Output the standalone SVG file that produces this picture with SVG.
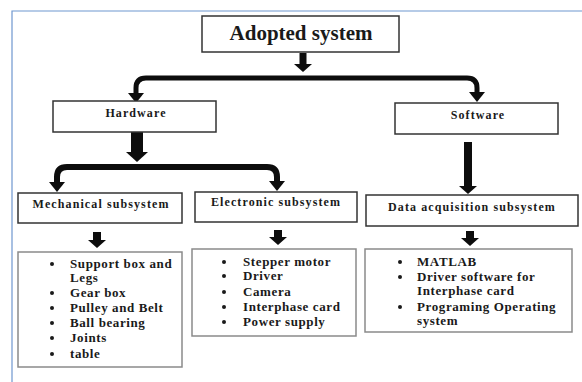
<svg xmlns="http://www.w3.org/2000/svg" width="582" height="382" viewBox="0 0 582 382">
  <style>
    .box { fill: #ffffff; stroke: #333333; stroke-width: 1.5; }
    .list { fill: #ffffff; stroke: #8a8a8a; stroke-width: 1.5; }
    .title { font-family: "Liberation Serif", "Times New Roman", serif; font-weight: bold; font-size: 21px; fill: #1a1a1a; text-anchor: middle; }
    .head { font-family: "Liberation Serif", "Times New Roman", serif; font-weight: bold; font-size: 12px; letter-spacing: 1.1px; fill: #1a1a1a; text-anchor: middle; }
    .item { font-family: "Liberation Serif", "Times New Roman", serif; font-weight: bold; font-size: 13px; letter-spacing: 0.6px; fill: #1a1a1a; }
    .bul { fill: #1a1a1a; }
    .con { fill: none; stroke: #0d0d0d; }
    .frame { fill: none; stroke: #6f97cf; stroke-width: 1.2; }
  </style>
  <defs>
    <marker id="hd" markerUnits="userSpaceOnUse" markerWidth="8" markerHeight="18" viewBox="0 0 8 18" refX="0" refY="9" orient="auto">
      <path d="M0,0 L8,9 L0,18 z" fill="#0d0d0d"/>
    </marker>
    <marker id="hdL" markerUnits="userSpaceOnUse" markerWidth="10" markerHeight="22" viewBox="0 0 10 22" refX="0" refY="11" orient="auto">
      <path d="M0,0 L10,11 L0,22 z" fill="#0d0d0d"/>
    </marker>
    <marker id="hdC" markerUnits="userSpaceOnUse" markerWidth="10" markerHeight="16" viewBox="0 0 10 16" refX="0" refY="8" orient="auto">
      <path d="M0,0 L10,8 L0,16 z" fill="#0d0d0d"/>
    </marker>
  </defs>

  <path class="frame" d="M12,382 V11 H582"/>

  <g id="connectors">
    <path class="con" stroke-width="7" d="M303,53 V64" marker-end="url(#hd)"/>
    <path class="con" stroke-width="5" d="M304,78 H146 Q136,78 136,88 V93" marker-end="url(#hdC)"/>
    <path class="con" stroke-width="5" d="M304,78 H467 Q477,78 477,88 V92" marker-end="url(#hdC)"/>
    <path class="con" stroke-width="12" d="M137,132 V152" marker-end="url(#hdL)"/>
    <path class="con" stroke-width="6" d="M137,167 H67 Q57,167 57,177 V182" marker-end="url(#hdC)"/>
    <path class="con" stroke-width="6" d="M137,167 H267 Q277,167 277,177 V181" marker-end="url(#hdC)"/>
    <path class="con" stroke-width="8" d="M468,142 V186" marker-end="url(#hd)"/>
    <path class="con" stroke-width="8" d="M97,232 V240" marker-end="url(#hd)"/>
    <path class="con" stroke-width="8" d="M278,230 V237" marker-end="url(#hd)"/>
    <path class="con" stroke-width="8" d="M470,231 V238" marker-end="url(#hd)"/>
  </g>

  <g id="adopted">
    <rect class="box" x="202" y="16" width="197" height="36"/>
    <text class="title" x="301" y="40">Adopted system</text>
  </g>
  <g id="hardware">
    <rect class="box" x="53" y="101" width="163" height="31"/>
    <text class="head" x="136" y="117">Hardware</text>
  </g>
  <g id="software">
    <rect class="box" x="395" y="103" width="163" height="31"/>
    <text class="head" x="478" y="119">Software</text>
  </g>
  <g id="mechanical">
    <rect class="box" x="18" y="193" width="164" height="30"/>
    <text class="head" x="101" y="208">Mechanical subsystem</text>
  </g>
  <g id="electronic">
    <rect class="box" x="195" y="192" width="162" height="30"/>
    <text class="head" x="276" y="206">Electronic subsystem</text>
  </g>
  <g id="data">
    <rect class="box" x="366" y="195" width="212" height="31"/>
    <text class="head" x="472" y="211">Data acquisition subsystem</text>
  </g>

  <g id="mech-list">
    <rect class="list" x="18" y="252" width="164" height="115"/>
    <circle class="bul" cx="52" cy="264" r="2"/>
    <text class="item" x="70" y="268">Support box and</text>
    <text class="item" x="70" y="282">Legs</text>
    <circle class="bul" cx="52" cy="293" r="2"/>
    <text class="item" x="70" y="297">Gear box</text>
    <circle class="bul" cx="52" cy="308" r="2"/>
    <text class="item" x="70" y="312">Pulley and Belt</text>
    <circle class="bul" cx="52" cy="323" r="2"/>
    <text class="item" x="70" y="327">Ball bearing</text>
    <circle class="bul" cx="52" cy="338" r="2"/>
    <text class="item" x="70" y="342">Joints</text>
    <circle class="bul" cx="52" cy="354" r="2"/>
    <text class="item" x="70" y="358">table</text>
  </g>

  <g id="elec-list">
    <rect class="list" x="192" y="249" width="164" height="87"/>
    <circle class="bul" cx="224" cy="262" r="2"/>
    <text class="item" x="243" y="266">Stepper motor</text>
    <circle class="bul" cx="224" cy="276" r="2"/>
    <text class="item" x="243" y="280">Driver</text>
    <circle class="bul" cx="224" cy="292" r="2"/>
    <text class="item" x="243" y="296">Camera</text>
    <circle class="bul" cx="224" cy="307" r="2"/>
    <text class="item" x="243" y="311">Interphase card</text>
    <circle class="bul" cx="224" cy="322" r="2"/>
    <text class="item" x="243" y="326">Power supply</text>
  </g>

  <g id="data-list">
    <rect class="list" x="365" y="249" width="207" height="83"/>
    <circle class="bul" cx="400" cy="262" r="2"/>
    <text class="item" x="417" y="266">MATLAB</text>
    <circle class="bul" cx="400" cy="277" r="2"/>
    <text class="item" x="417" y="281">Driver software for</text>
    <text class="item" x="417" y="295">Interphase card</text>
    <circle class="bul" cx="400" cy="307" r="2"/>
    <text class="item" x="417" y="311">Programing Operating</text>
    <text class="item" x="417" y="325">system</text>
  </g>
</svg>
